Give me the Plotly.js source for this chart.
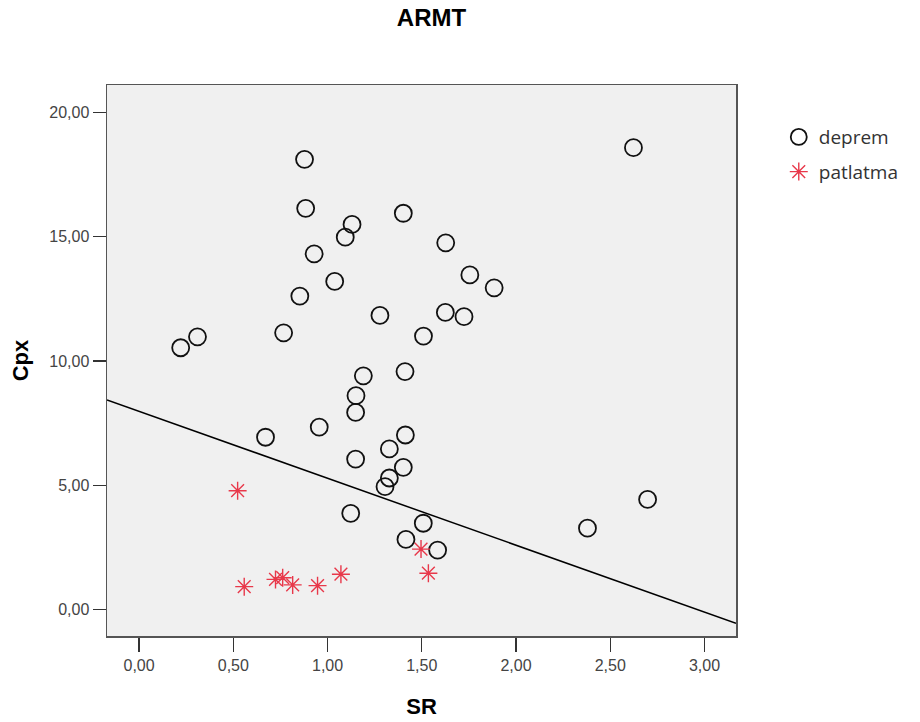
<!DOCTYPE html>
<html>
<head>
<meta charset="utf-8">
<script src="https://cdn.plot.ly/plotly-3.0.1.min.js"></script>
<style>html,body{margin:0;padding:0;background:#fff}#chart{width:920px;height:722px}</style>
</head>
<body>
<div id="chart"></div>
<script>
// deprem (earthquake) points
const depremSR = [0.878,0.884,1.402,1.130,1.094,0.929,1.038,0.853,1.278,0.767,0.310,0.221,1.509,2.623,1.627,1.755,1.884,1.625,1.724,1.190,1.411,1.151,1.149,0.956,0.671,1.413,1.328,1.149,1.402,1.328,1.305,1.123,1.508,1.416,1.584,2.698,2.379];
const depremCpx = [18.11,16.14,15.94,15.49,14.98,14.31,13.20,12.61,11.83,11.13,10.97,10.53,11.00,18.58,14.75,13.46,12.94,11.95,11.78,9.40,9.57,8.60,7.93,7.34,6.93,7.02,6.46,6.05,5.72,5.29,4.94,3.87,3.47,2.82,2.39,4.43,3.27];
// patlatma (explosion) points
const patlatmaSR = [0.523,0.558,0.724,0.762,0.815,0.947,1.071,1.496,1.535];
const patlatmaCpx = [4.78,0.92,1.21,1.28,0.99,0.96,1.42,2.43,1.46];
// fit line (total)
const fitSR = [-0.17,3.167];
const fitCpx = [8.43,-0.555];
const seriesNames = ['deprem','patlatma'];

const tickFont = {family:'Liberation Sans, Arial, sans-serif', size:16, color:'#444'};
const axTitleFont = {family:'Liberation Sans, Arial, sans-serif', size:22, color:'#000'};

const traces = [
  {x: fitSR, y: fitCpx, mode:'lines', line:{color:'#000',width:1.5}, showlegend:false, hoverinfo:'skip'},
  {x: depremSR, y: depremCpx, mode:'markers', name: seriesNames[0], legendgroup:'a',
   marker:{symbol:'circle-open', size:17, color:'#111', line:{width:1.8,color:'#111'}}},
  {x: patlatmaSR, y: patlatmaCpx, mode:'markers', name: seriesNames[1], legendgroup:'b',
   marker:{symbol:'asterisk-open', size:15, color:'#e8384a', line:{width:1.4,color:'#e8384a'}}}
];

const layout = {
  width:920, height:722,
  margin:{l:107, r:184, t:85, b:86},
  paper_bgcolor:'#ffffff', plot_bgcolor:'#f0f0f0',
  separators:',.',
  title:{text:'<b>ARMT</b>', x:0.469, xanchor:'center', y:0.976, yanchor:'middle',
         font:{family:'Liberation Sans, Arial, sans-serif', size:24, color:'#000'}},
  xaxis:{range:[-0.17,3.167], dtick:0.5, tick0:0, tickformat:'.2f', showgrid:false, zeroline:false,
         showline:true, mirror:true, linecolor:'#555', linewidth:1.5,
         ticks:'outside', ticklen:14, tickwidth:1.3, tickcolor:'#333',
         tickfont:tickFont,
         title:{text:'<b>SR</b>', font:axTitleFont, standoff:26}},
  yaxis:{range:[-1.066,21.10], dtick:5, tick0:0, tickformat:'.2f', showgrid:false, zeroline:false,
         showline:true, mirror:true, linecolor:'#555', linewidth:1.5,
         ticks:'outside', ticklen:13, tickwidth:1.3, tickcolor:'#333',
         tickfont:tickFont,
         title:{text:'<b>Cpx</b>', font:axTitleFont, standoff:14}},
  legend:{x:1.068, xanchor:'left', y:0.94, yanchor:'top', bgcolor:'rgba(0,0,0,0)',
          traceorder:'grouped', tracegroupgap:7,
          font:{family:'Open Sans, DejaVu Sans, sans-serif', size:19, color:'#333'}},
  showlegend:true
};

Plotly.newPlot('chart', traces, layout, {displayModeBar:false, staticPlot:true});
</script>
</body>
</html>
